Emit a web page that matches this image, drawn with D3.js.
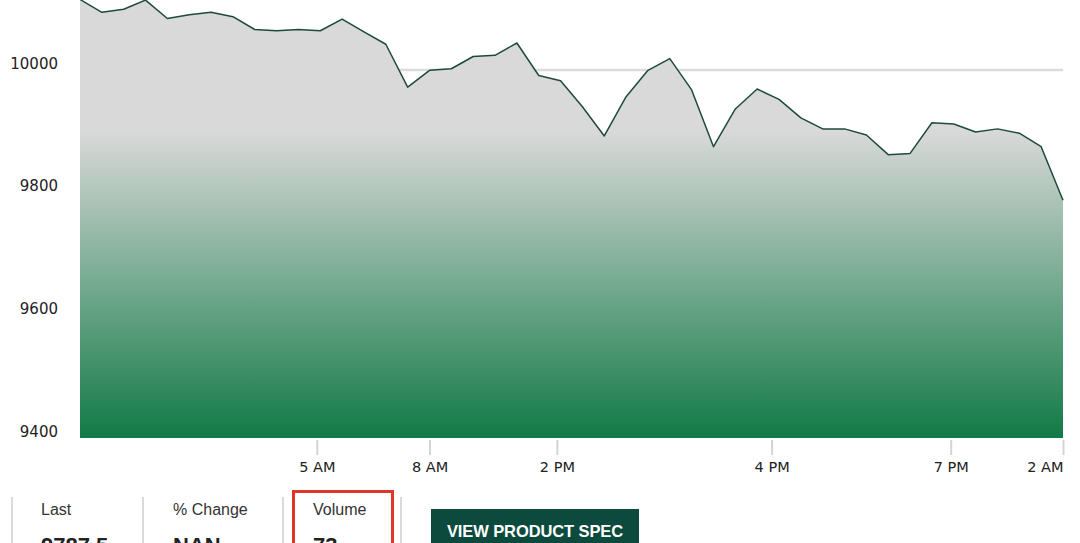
<!DOCTYPE html>
<html><head><meta charset="utf-8">
<script src="https://cdn.jsdelivr.net/npm/d3@7"></script>
<style>html,body{margin:0;padding:0;background:#fff;overflow:hidden}</style>
</head><body><svg id="c" width="1080" height="543"></svg>
<script>
// ---- data ----
const prices = [10115, 10094, 10099, 10114, 10084, 10090, 10094, 10087, 10066, 10064,
                10066, 10064, 10083, 10062, 10042, 9972, 9999.5, 10002, 10022, 10024,
                10044, 9991, 9982.5, 9940, 9892.5, 9956.5, 9999.5, 10018.5, 9967.5, 9875,
                9936.5, 9969, 9952, 9922, 9904, 9904, 9894, 9862, 9864, 9914,
                9912, 9899, 9904, 9897, 9875, 9787.5];
const yTickValues = [10000, 9800, 9600, 9400];
const gridValues = [10000];
const xTickLabels = ["5 AM", "8 AM", "2 PM", "4 PM", "7 PM", "2 AM"];
const xTickIndex = [10.84, 16, 21.83, 31.66, 39.86, 45];
const statLabels = ["Last", "% Change", "Volume"];
const statValues = ["9787.5", "NAN", "73"];
const buttonLabel = "VIEW PRODUCT SPEC";

// ---- layout ----
const svg = d3.select("#c");
const plotL = 80, plotR = 1063, plotT = 70, plotB = 438;
const x = d3.scaleLinear().domain([0, prices.length - 1]).range([plotL, plotR]);
const y = d3.scaleLinear().domain([9400, 10000]).range([plotB, plotT]);

const defs = svg.append("defs");
const grad = defs.append("linearGradient").attr("id", "g")
  .attr("gradientUnits", "userSpaceOnUse")
  .attr("x1", 0).attr("x2", 0).attr("y1", 0).attr("y2", plotB);
grad.append("stop").attr("offset", 0).attr("stop-color", "#d9d9d9");
grad.append("stop").attr("offset", 0.30).attr("stop-color", "#d9d9d9");
grad.append("stop").attr("offset", 1).attr("stop-color", "#117a46");

// gridline
svg.append("g").selectAll("line").data(gridValues).join("line")
  .attr("x1", plotL).attr("x2", plotR)
  .attr("y1", d => y(d)).attr("y2", d => y(d))
  .attr("stroke", "#dcdcdc").attr("stroke-width", 2.5);

const area = d3.area().x((d, i) => x(i)).y0(y(9400)).y1(d => y(d));
const line = d3.line().x((d, i) => x(i)).y(d => y(d));
svg.append("path").datum(prices).attr("d", area).attr("fill", "url(#g)");
svg.append("path").datum(prices).attr("d", line)
  .attr("fill", "none").attr("stroke", "#1d4a3c").attr("stroke-width", 1.5)
  .attr("stroke-linejoin", "round");

// y axis
const yAxis = svg.append("g").attr("transform", "translate(66,0)")
  .call(d3.axisLeft(y).tickValues(yTickValues).tickSize(0).tickPadding(8).tickFormat(d3.format("d")));
yAxis.select(".domain").remove();
yAxis.selectAll("text").attr("dy", "-2px")
  .attr("font-family", "DejaVu Sans").attr("font-size", 15).attr("fill", "#222");

// x axis
const xAxis = svg.append("g").attr("transform", `translate(0,${plotB + 2})`)
  .call(d3.axisBottom(x).tickValues(xTickIndex).tickSize(15).tickPadding(7)
    .tickFormat((d, i) => xTickLabels[i]));
xAxis.select(".domain").remove();
xAxis.selectAll(".tick line").attr("stroke", "#d4d4d4").attr("stroke-width", 2);
xAxis.selectAll("text").attr("font-family", "DejaVu Sans").attr("font-size", 14.5).attr("fill", "#222")
  .attr("text-anchor", (d, i) => i === xTickIndex.length - 1 ? "end" : "middle");

// bottom stat panel
const sepX = [12, 143, 283, 401];
svg.append("g").selectAll("line").data(sepX).join("line")
  .attr("x1", d => d).attr("x2", d => d).attr("y1", 497).attr("y2", 543)
  .attr("stroke", "#dadada").attr("stroke-width", 2);
const statX = [41, 173, 313];
const stats = svg.append("g").selectAll("g").data(statLabels).join("g")
  .attr("transform", (d, i) => `translate(${statX[i]},0)`);
stats.append("text").attr("y", 515).text(d => d)
  .attr("font-family", "Liberation Sans, Arial").attr("font-size", 16).attr("fill", "#333");
stats.append("text").attr("y", 553).text((d, i) => statValues[i])
  .attr("font-family", "Liberation Sans, Arial").attr("font-size", 22).attr("font-weight", "bold").attr("fill", "#222");

svg.append("rect").attr("x", 293.5).attr("y", 491.5).attr("width", 99).attr("height", 80)
  .attr("fill", "none").attr("stroke", "#e0352b").attr("stroke-width", 3);

svg.append("rect").attr("x", 431).attr("y", 509).attr("width", 208).attr("height", 60).attr("fill", "#0b4a3d");
svg.append("text").attr("x", 535).attr("y", 537).attr("text-anchor", "middle").text(buttonLabel)
  .attr("font-family", "Liberation Sans, Arial").attr("font-size", 16.5).attr("font-weight", "bold")
  .attr("fill", "#fff").attr("letter-spacing", "-0.1px");
</script></body></html>
